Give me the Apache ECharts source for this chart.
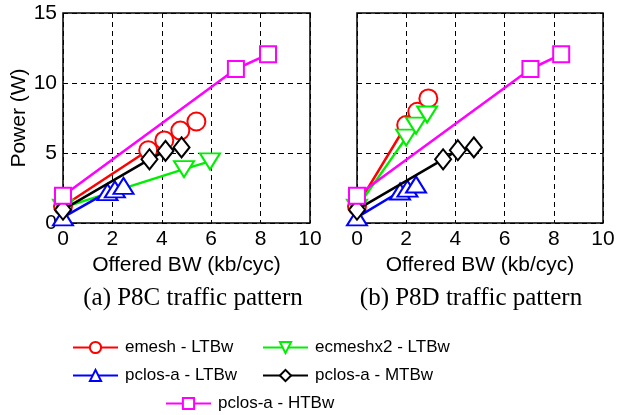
<!DOCTYPE html>
<html>
<head>
<meta charset="utf-8">
<script src="https://cdn.jsdelivr.net/npm/echarts@6/dist/echarts.min.js"></script>
<style>
html,body{margin:0;padding:0;background:#fff;}
#chart{width:626px;height:415px;}
</style>
</head>
<body>
<div id="chart"></div>
<script>
// Series names
const seriesNames = ['emesh - LTBw', 'ecmeshx2 - LTBw', 'pclos-a - LTBw', 'pclos-a - MTBw', 'pclos-a - HTBw'];
const subCaptions = ['(a) P8C traffic pattern', '(b) P8D traffic pattern'];
const xAxisTitle = 'Offered BW (kb/cyc)';
const yAxisTitle = 'Power (W)';

// (a) P8C: [offered BW, power]
const p8cEmesh   = [[0, 1.2], [3.45, 5.2], [4.1, 5.9], [4.75, 6.6], [5.4, 7.25]];
const p8cEcmesh  = [[0, 1.1], [4.9, 3.85], [5.95, 4.4]];
const p8cLTBw    = [[0, 0.4], [1.8, 2.2], [2.1, 2.4], [2.45, 2.65]];
const p8cMTBw    = [[0, 0.95], [3.5, 4.55], [4.15, 5.15], [4.8, 5.4]];
const p8cHTBw    = [[0, 1.95], [7.0, 11.0], [8.3, 12.05]];

// (b) P8D
const p8dEmesh   = [[0, 1.2], [2.0, 7.0], [2.45, 7.95], [2.9, 8.9]];
const p8dEcmesh  = [[0, 1.1], [2.0, 6.1], [2.4, 6.95], [2.85, 7.75]];
const p8dLTBw    = [[0, 0.4], [1.75, 2.25], [2.05, 2.45], [2.4, 2.75]];
const p8dMTBw    = [[0, 0.95], [3.5, 4.55], [4.1, 5.2], [4.75, 5.4]];
const p8dHTBw    = [[0, 1.95], [7.05, 11.0], [8.3, 12.05]];

const FONT = 'Liberation Sans';
const colors = ['#ff0000', '#00ee00', '#0000ff', '#000000', '#ff00ff'];
const symbols = ['emptyCircle', 'emptyTriangle', 'emptyTriangle', 'emptyDiamond', 'emptyRect'];
const rotates = [0, 180, 0, 0, 0];
const sizes = [18, [20, 16], [20, 16], [16, 20], 16];

const panels = [
  [p8cEmesh, p8cEcmesh, p8cLTBw, p8cMTBw, p8cHTBw],
  [p8dEmesh, p8dEcmesh, p8dLTBw, p8dMTBw, p8dHTBw]
];

const series = [];
panels.forEach((pd, gi) => {
  pd.forEach((d, si) => {
    series.push({
      type: 'line',
      name: seriesNames[si],
      xAxisIndex: gi,
      yAxisIndex: gi,
      data: d,
      clip: false,
      symbol: symbols[si],
      symbolRotate: rotates[si],
      symbolSize: sizes[si],
      showAllSymbol: true,
      lineStyle: { color: colors[si], width: 2.5 },
      itemStyle: { color: colors[si], borderColor: colors[si], borderWidth: 2 },
      emphasis: { disabled: true },
      animation: false,
      z: 2 + si
    });
  });
});

function xAxis(gi) {
  return {
    type: 'value', gridIndex: gi, min: 0, max: 10, interval: 2,
    name: xAxisTitle, nameLocation: 'middle', nameGap: 21,
    nameTextStyle: { fontFamily: FONT, fontSize: 21, color: '#000' },
    axisLine: { show: false }, axisTick: { show: false },
    axisLabel: { fontFamily: FONT, fontSize: 21, color: '#000', margin: 6 },
    splitLine: { show: true, lineStyle: { color: '#000', width: 1, type: [5, 4] } }
  };
}
function yAxis(gi) {
  return {
    type: 'value', gridIndex: gi, min: 0, max: 15, interval: 5,
    name: gi === 0 ? yAxisTitle : '', nameLocation: 'middle', nameGap: 27,
    nameTextStyle: { fontFamily: FONT, fontSize: 21, color: '#000' },
    axisLine: { show: false }, axisTick: { show: false },
    axisLabel: { show: gi === 0, fontFamily: FONT, fontSize: 21, color: '#000', margin: 6 },
    splitLine: { show: true, lineStyle: { color: '#000', width: 1, type: [5, 4] } }
  };
}

const legendPos = [
  { left: 72, top: 339 }, { left: 262, top: 339 },
  { left: 72, top: 367 }, { left: 262, top: 367 },
  { left: 165, top: 395 }
];
const legends = seriesNames.map((n, i) => ({
  data: [n], left: legendPos[i].left, top: legendPos[i].top,
  orient: 'horizontal', itemWidth: 45, itemHeight: 14, padding: 0,
  selectedMode: false,
  textStyle: { fontFamily: FONT, fontSize: 17, color: '#000', padding: [0, 0, 0, 2] }
}));

const chart = echarts.init(document.getElementById('chart'), null, { renderer: 'canvas' });
chart.setOption({
  animation: false,
  backgroundColor: '#fff',
  grid: [
    { left: 63, top: 13, width: 247, height: 210, show: true, borderColor: '#000', borderWidth: 1.5, backgroundColor: 'transparent' },
    { left: 357, top: 13, width: 246, height: 210, show: true, borderColor: '#000', borderWidth: 1.5, backgroundColor: 'transparent' }
  ],
  xAxis: [xAxis(0), xAxis(1)],
  yAxis: [yAxis(0), yAxis(1)],
  legend: legends,
  series: series,
  graphic: [
    { type: 'text', style: { text: subCaptions[0], font: '25px "Liberation Serif"', fill: '#000', x: 193, y: 298, textAlign: 'center', textVerticalAlign: 'middle' } },
    { type: 'text', style: { text: subCaptions[1], font: '25px "Liberation Serif"', fill: '#000', x: 471, y: 298, textAlign: 'center', textVerticalAlign: 'middle' } }
  ]
});
</script>
</body>
</html>
